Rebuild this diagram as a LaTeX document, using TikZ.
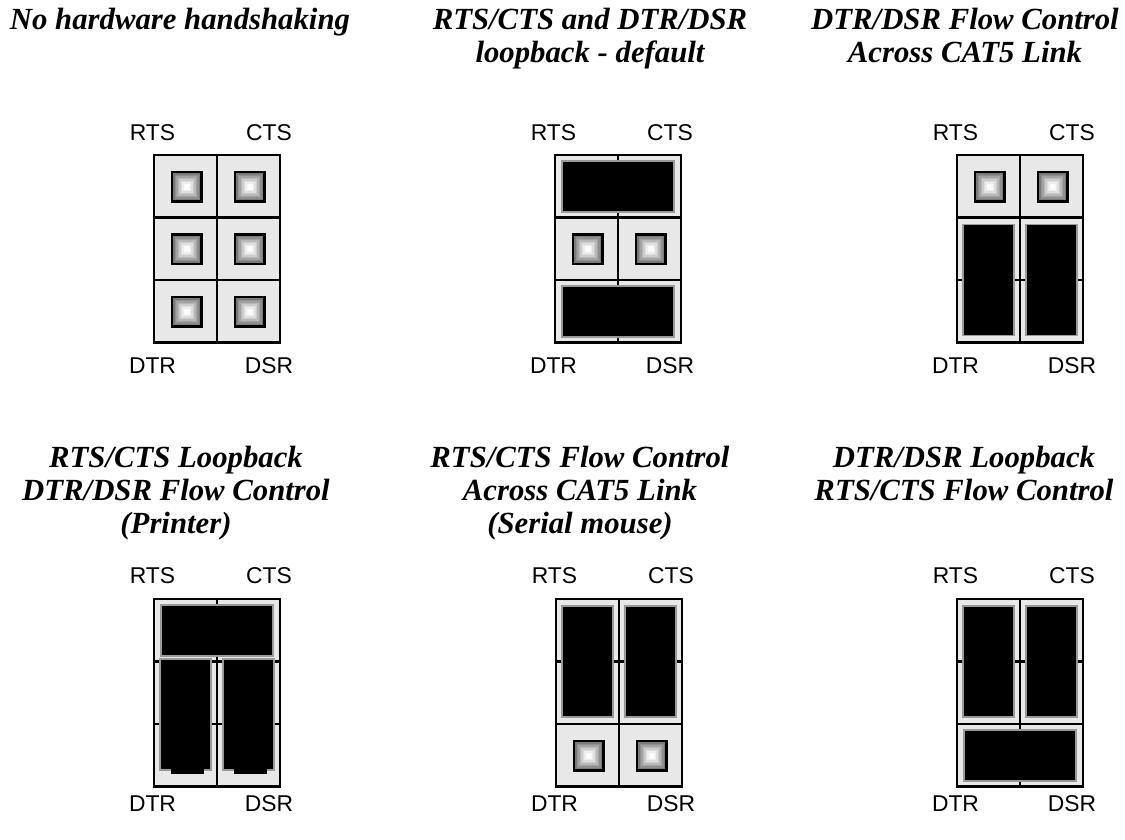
\documentclass[tikz,border=0pt]{standalone}
\usepackage{fontspec}
\setmainfont{Liberation Serif}
\setsansfont{Liberation Sans}
\usetikzlibrary{positioning}

\tikzset{
  pics/header/.style={code={
    \foreach \c in {0,1}
      \foreach \r in {0,1,2}
        \draw[cell] (63*\c,62.5*\r) rectangle ++(63,62.5);
  }},
  pics/pin/.style={code={
    \fill[black] (-16,-16) rectangle (16,16);
    \foreach \s/\g in {13.5/52,12/44,10.5/36,9/28,7.5/20,6/13,4.5/7,3/2,1.5/0}
      \fill[black!\g] (-\s,-\s) rectangle (\s,\s);
  }},
  pics/hjump/.style={code={\draw[jumper] (7,6) rectangle (119,57);}},
  pics/vjump/.style={code={\draw[jumper] (6,7) rectangle (57,118);}},
}

\begin{document}
\begin{tikzpicture}[
  x=0.02cm,y=-0.02cm,
  every node/.style={inner sep=0pt},
  title/.style={font=\fontsize{17.5}{18.7}\selectfont\bfseries\itshape,align=center,anchor=base},
  sig/.style={font=\fontsize{13}{15}\selectfont\sffamily,anchor=base},
  cell/.style={draw=black,line width=1.6pt,fill=black!9},
  jumper/.style={fill=black,draw=black!40,line width=0.6pt},
]
\useasboundingbox (0,0) rectangle (1125,839);

% titles (base = last line)
\node (t1) [title] at (180,29) {No hardware handshaking};
\node (t2) [title] at (590,62) {RTS/CTS and DTR/DSR\\loopback - default};
\node (t3) [title] at (965,62) {DTR/DSR Flow Control\\Across CAT5 Link};
\node (t4) [title] at (176,533) {RTS/CTS Loopback\\DTR/DSR Flow Control\\(Printer)};
\node (t5) [title] at (580,533) {RTS/CTS Flow Control\\Across CAT5 Link\\(Serial mouse)};
\node (t6) [title] at (964,500) {DTR/DSR Loopback\\RTS/CTS Flow Control};

% no handshaking
\begin{scope}[shift={(154,155)}]
  \pic {header};
  \foreach \c in {32.5,95.5}
    \foreach \r in {31.5,94,156.5}
      \pic at (\c,\r) {pin};
  \node (rts1) [sig] at (-1.5,-15) {RTS};
  \node (cts1) [sig] at (115,-15) {CTS};
  \node (dtr1) [sig] at (-1.5,218) {DTR};
  \node (dsr1) [sig] at (115,218) {DSR};
\end{scope}

% loopback default
\begin{scope}[shift={(555,155)}]
  \pic {header};
  \pic at (0,0) {hjump};
  \pic at (32.5,94) {pin};
  \pic at (95.5,94) {pin};
  \pic at (0,125) {hjump};
  \node (rts2) [sig] at (-1.5,-15) {RTS};
  \node (cts2) [sig] at (115,-15) {CTS};
  \node (dtr2) [sig] at (-1.5,218) {DTR};
  \node (dsr2) [sig] at (115,218) {DSR};
\end{scope}

% dtr/dsr flow control
\begin{scope}[shift={(957,155)}]
  \pic {header};
  \pic at (32.5,31.5) {pin};
  \pic at (95.5,31.5) {pin};
  \pic at (0,62.5) {vjump};
  \pic at (63,62.5) {vjump};
  \node (rts3) [sig] at (-1.5,-15) {RTS};
  \node (cts3) [sig] at (115,-15) {CTS};
  \node (dtr3) [sig] at (-1.5,218) {DTR};
  \node (dsr3) [sig] at (115,218) {DSR};
\end{scope}

% printer
\begin{scope}[shift={(154,599)}]
  \pic {header};
  \pic at (0,0) {hjump};
  \pic at (0,53) {vjump};
  \pic at (63,53) {vjump};
  \fill (17,170) rectangle (50,175);
  \fill (80,170) rectangle (113,175);
  \node (rts4) [sig] at (-1.5,-16) {RTS};
  \node (cts4) [sig] at (115,-16) {CTS};
  \node (dtr4) [sig] at (-1.5,212) {DTR};
  \node (dsr4) [sig] at (115,212) {DSR};
\end{scope}

% serial mouse
\begin{scope}[shift={(556,599)}]
  \pic {header};
  \pic at (0,0) {vjump};
  \pic at (63,0) {vjump};
  \pic at (32.5,156.5) {pin};
  \pic at (95.5,156.5) {pin};
  \node (rts5) [sig] at (-1.5,-16) {RTS};
  \node (cts5) [sig] at (115,-16) {CTS};
  \node (dtr5) [sig] at (-1.5,212) {DTR};
  \node (dsr5) [sig] at (115,212) {DSR};
\end{scope}

% rts/cts flow control
\begin{scope}[shift={(957,599)}]
  \pic {header};
  \pic at (0,0) {vjump};
  \pic at (63,0) {vjump};
  \pic at (0,125) {hjump};
  \node (rts6) [sig] at (-1.5,-16) {RTS};
  \node (cts6) [sig] at (115,-16) {CTS};
  \node (dtr6) [sig] at (-1.5,212) {DTR};
  \node (dsr6) [sig] at (115,212) {DSR};
\end{scope}
\end{tikzpicture}
\end{document}
